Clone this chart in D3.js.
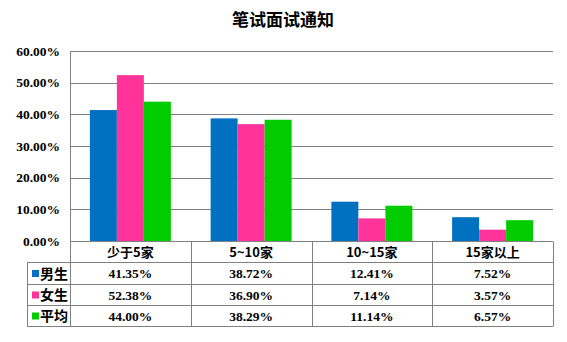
<!DOCTYPE html>
<html><head><meta charset="utf-8">
<script src="https://cdn.jsdelivr.net/npm/d3@7/dist/d3.min.js"></script>
<style>body{margin:0;background:#fff}svg{display:block}</style>
</head><body>
<svg id="c" width="567" height="342"></svg>
<script>
const title = "笔试面试通知";
const categories = ["少于5家", "5~10家", "10~15家", "15家以上"];
const seriesNames = ["男生", "女生", "平均"];
const male = [41.35, 38.72, 12.41, 7.52];
const female = [52.38, 36.90, 7.14, 3.57];
const average = [44.00, 38.29, 11.14, 6.57];
const yTicks = [0, 10, 20, 30, 40, 50, 60];
const colors = ["#0070C0", "#FF3399", "#00CC00"];
const seriesValues = [male, female, average];

const svg = d3.select("#c");
const L = 70, R = 553, T = 51, B = 241;
const rowH = 21.33, legendX = 27;
const serif = "'Liberation Serif','Times New Roman',serif";
const cjk = "'Noto Sans CJK SC','Liberation Serif',serif";

const x = d3.scaleBand().domain(categories).range([L, R]).paddingInner(0).paddingOuter(0);
const y = d3.scaleLinear().domain([0, 60]).range([B, T]);
const xs = d3.scaleBand().domain(seriesNames).range([0, x.bandwidth()]).paddingOuter(0.736).paddingInner(0);

svg.append("text").attr("x", 283).attr("y", 26).attr("text-anchor", "middle")
  .attr("font-family", cjk).attr("font-weight", "bold").attr("font-size", 17).text(title);

// gridlines
svg.append("g").selectAll("line").data(yTicks.filter(d => d > 0)).join("line")
  .attr("x1", L).attr("x2", R).attr("y1", d => Math.round(y(d)) + 0.5).attr("y2", d => Math.round(y(d)) + 0.5)
  .attr("stroke", "#808080").attr("stroke-width", 1);

// y axis labels
svg.append("g").selectAll("text").data(yTicks).join("text")
  .attr("x", 60).attr("y", d => y(d) + 4.5).attr("text-anchor", "end")
  .attr("font-family", serif).attr("font-weight", "bold").attr("font-size", 13.5)
  .text(d => d.toFixed(2) + "%");

// bars
seriesValues.forEach((vals, si) => {
  svg.append("g").selectAll("rect").data(vals).join("rect")
    .attr("x", (d, i) => x(categories[i]) + xs(seriesNames[si]))
    .attr("width", xs.bandwidth())
    .attr("y", d => y(d)).attr("height", d => B - y(d))
    .attr("fill", colors[si]);
});

// axis line
svg.append("line").attr("x1", L + 0.5).attr("x2", L + 0.5).attr("y1", T).attr("y2", B)
  .attr("stroke", "#808080");

// table
const tg = svg.append("g").attr("stroke", "#808080").attr("stroke-width", 1);
const rowsY = [0, 1, 2, 3, 4].map(i => Math.round(B + i * rowH) + 0.5);
rowsY.forEach((yy, i) => {
  tg.append("line").attr("x1", i === 0 ? L : legendX).attr("x2", R).attr("y1", yy).attr("y2", yy);
});
const vx = [L, ...categories.map(c => x(c) + x.bandwidth())];
vx.forEach(xx => {
  tg.append("line").attr("x1", Math.round(xx) + 0.5).attr("x2", Math.round(xx) + 0.5)
    .attr("y1", rowsY[0]).attr("y2", rowsY[4]);
});
tg.append("line").attr("x1", legendX + 0.5).attr("x2", legendX + 0.5).attr("y1", rowsY[1]).attr("y2", rowsY[4]);

// header
svg.append("g").selectAll("text").data(categories).join("text")
  .attr("x", d => x(d) + x.bandwidth() / 2).attr("y", (rowsY[0] + rowsY[1]) / 2 + 5)
  .attr("text-anchor", "middle").attr("font-family", cjk).attr("font-weight", "bold").attr("font-size", 13)
  .text(d => d);

// rows
seriesValues.forEach((vals, si) => {
  const cy = (rowsY[si + 1] + rowsY[si + 2]) / 2;
  svg.append("rect").attr("x", 32).attr("y", cy - 3.5).attr("width", 7).attr("height", 7).attr("fill", colors[si]);
  svg.append("text").attr("x", 40).attr("y", cy + 5).attr("font-family", cjk).attr("font-weight", "bold")
    .attr("font-size", 14).text(seriesNames[si]);
  svg.append("g").selectAll("text").data(vals).join("text")
    .attr("x", (d, i) => x(categories[i]) + x.bandwidth() / 2).attr("y", cy + 4.5)
    .attr("text-anchor", "middle").attr("font-family", serif).attr("font-weight", "bold").attr("font-size", 13.5)
    .text(d => d.toFixed(2) + "%");
});
</script>
</body></html>
